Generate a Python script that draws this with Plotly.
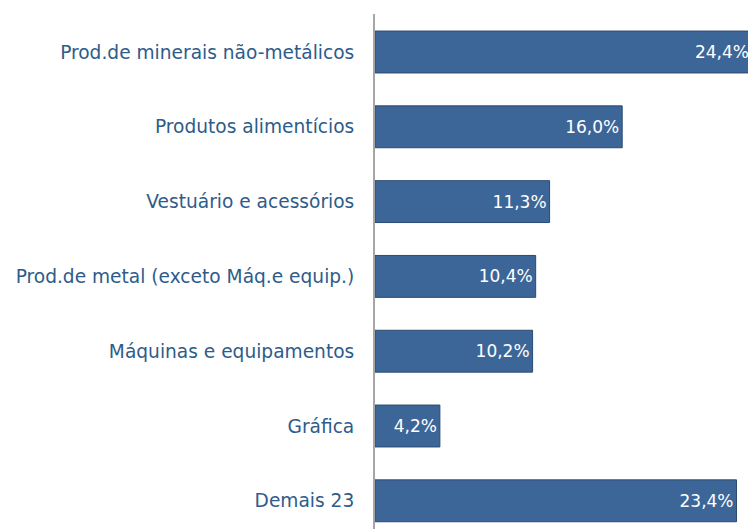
import plotly.graph_objects as go

categories = [
    "Prod.de minerais não-metálicos",
    "Produtos alimentícios",
    "Vestuário e acessórios",
    "Prod.de metal (exceto Máq.e equip.)",
    "Máquinas e equipamentos",
    "Gráfica",
    "Demais 23",
]
values = [24.4, 16.0, 11.3, 10.4, 10.2, 4.2, 23.4]
value_labels = ["24,4%", "16,0%", "11,3%", "10,4%", "10,2%", "4,2%", "23,4%"]

positions = list(range(len(categories)))

fig = go.Figure(
    go.Bar(
        x=values,
        y=positions,
        orientation="h",
        width=0.56,
        marker=dict(color="#3D6698", line=dict(color="#2A4A72", width=1)),
        text=value_labels,
        textposition="inside",
        insidetextanchor="end",
        textfont=dict(color="white", size=17, family="DejaVu Sans"),
        cliponaxis=False,
    )
)

# page body has an 8px default margin, so the figure is 8px smaller
fig.update_layout(
    width=748,
    height=521,
    margin=dict(l=367, r=0, t=6, b=0, autoexpand=False),
    paper_bgcolor="white",
    plot_bgcolor="white",
    showlegend=False,
)
fig.update_xaxes(range=[0, 381 / 15.45], visible=False, showgrid=False, zeroline=False)
fig.update_yaxes(
    tickvals=positions,
    ticktext=categories,
    range=[6.377, -0.508],
    showline=True,
    linecolor="#A6A6A6",
    linewidth=2,
    showgrid=False,
    zeroline=False,
    automargin=False,
    ticks="outside",
    ticklen=15,
    tickcolor="rgba(0,0,0,0)",
    tickfont=dict(size=18.6, color="#2E5C8A", family="DejaVu Sans"),
)

fig.write_html("out.html")
